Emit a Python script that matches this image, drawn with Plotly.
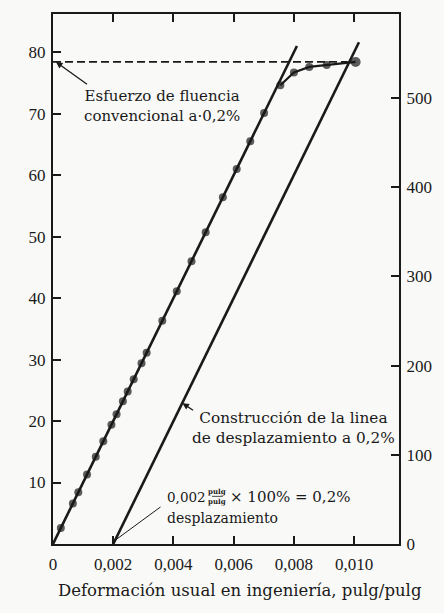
import plotly.graph_objects as go

# Ensayo de tracción: deformación (pulg/pulg) y esfuerzo (ksi)
deformacion = [0.00026, 0.00066, 0.00084, 0.00113, 0.00142, 0.00167, 0.00194,
               0.00211, 0.00232, 0.00248, 0.00268, 0.00294, 0.00311, 0.00363,
               0.00411, 0.00460, 0.00507, 0.00564, 0.00610, 0.00655, 0.00701,
               0.00755, 0.00800, 0.00851, 0.00909, 0.01005]
esfuerzo = [2.6, 6.6, 8.4, 11.3, 14.2, 16.7, 19.4, 21.1, 23.2, 24.8, 26.8, 29.4,
            31.1, 36.3, 41.1, 46.0, 50.7, 56.4, 61.0, 65.5, 70.1, 74.6, 76.7,
            77.6, 77.9, 78.4]

modulo = 1.0e4            # ksi, pendiente de la zona elástica
desplazamiento = 0.002    # 0,2 %
fluencia = 78.4           # ksi
fin_elastica = 81.0       # ksi, extremo superior de la recta elástica
fin_desplazada = 81.6     # ksi, extremo superior de la recta desplazada
inicio_plastico = 21      # índice desde el que la curva se separa de la recta

x_ticks = [0, 0.002, 0.004, 0.006, 0.008, 0.010]
x_ticktext = ["0", "0,002", "0,004", "0,006", "0,008", "0,010"]
y_ticks = [10, 20, 30, 40, 50, 60, 70, 80]
mpa_ticks = [0, 100, 200, 300, 400, 500]
KSI_A_MPA = 6.895

X_MAX = 0.01149
Y_MAX = 86.2

INK = "#1a1a1a"
NUM_FONT = "Liberation Serif"
TXT_FONT = "DejaVu Serif"

fig = go.Figure()

# recta elástica
fig.add_trace(go.Scatter(x=[0, fin_elastica / modulo], y=[0, fin_elastica],
                         mode="lines", line=dict(color=INK, width=2.6),
                         hoverinfo="skip", showlegend=False))
# recta desplazada 0,2 %
fig.add_trace(go.Scatter(x=[desplazamiento, desplazamiento + fin_desplazada / modulo],
                         y=[0, fin_desplazada],
                         mode="lines", line=dict(color=INK, width=2.6),
                         hoverinfo="skip", showlegend=False))
# límite de fluencia (discontinua)
fig.add_trace(go.Scatter(x=[0, deformacion[-2] + 0.0007], y=[fluencia, fluencia],
                         mode="lines", line=dict(color=INK, width=1.8, dash="8px,4px"),
                         hoverinfo="skip", showlegend=False))
# tramo plástico de la curva
fig.add_trace(go.Scatter(x=deformacion[inicio_plastico:], y=esfuerzo[inicio_plastico:],
                         mode="lines", line=dict(color=INK, width=2.2),
                         hoverinfo="skip", showlegend=False))
# puntos medidos
tamanos = [8] * (len(esfuerzo) - 1) + [10]
fig.add_trace(go.Scatter(x=deformacion, y=esfuerzo, mode="markers",
                         marker=dict(color=INK, size=tamanos, line=dict(width=0)),
                         showlegend=False))
# eje secundario en MPa
fig.add_trace(go.Scatter(x=[0], y=[0], yaxis="y2", mode="markers",
                         marker=dict(opacity=0), hoverinfo="skip", showlegend=False))
# eje superior (solo marcas)
fig.add_trace(go.Scatter(x=[0], y=[0], xaxis="x2", mode="markers",
                         marker=dict(opacity=0), hoverinfo="skip", showlegend=False))

num_fnt = dict(family=NUM_FONT, size=17, color=INK)
eje = dict(ticks="inside", ticklen=8, tickwidth=1.5, tickcolor=INK,
           showline=True, linecolor=INK, linewidth=2,
           showgrid=False, zeroline=False, tickfont=num_fnt)

fig.update_layout(
    width=444, height=613,
    margin=dict(l=53, r=32, t=14, b=69),
    paper_bgcolor="#f9f9f7", plot_bgcolor="#f9f9f7",
    font=num_fnt,
    xaxis=dict(range=[0, X_MAX], tickvals=x_ticks, ticktext=x_ticktext,
               ticklabelstandoff=4, **eje),
    xaxis2=dict(range=[0, X_MAX], tickvals=x_ticks, overlaying="x", side="top",
                showticklabels=False, **eje),
    yaxis=dict(range=[0, Y_MAX], tickvals=y_ticks, ticklabelstandoff=2, **eje),
    yaxis2=dict(range=[0, Y_MAX * KSI_A_MPA], tickvals=mpa_ticks, overlaying="y",
                side="right", ticklabelstandoff=2, **eje),
)


def txt(size):
    return dict(family=TXT_FONT, size=size, color=INK)


anots = []
# título del eje x
anots.append(dict(text="Deformación usual en ingeniería, pulg/pulg", xref="paper",
                  yref="paper", x=0.54, y=-0.087, xanchor="center", yanchor="middle",
                  showarrow=False, font=txt(16.5)))
# esfuerzo de fluencia
anots.append(dict(text="Esfuerzo de fluencia<br>convencional a·0,2%", x=0.00362, y=71.2,
                  xanchor="center", yanchor="middle", showarrow=False, font=txt(15)))
anots.append(dict(text="", x=0.0001, y=fluencia, ax=0.00118, ay=74.6, axref="x", ayref="y",
                  showarrow=True, arrowhead=2, arrowsize=1, arrowwidth=1.3,
                  arrowcolor=INK))
# construcción de la línea desplazada
anots.append(dict(text="Construcción de la linea<br>de desplazamiento a 0,2%", x=0.00797,
                  y=18.8, xanchor="center", yanchor="middle", showarrow=False,
                  font=txt(15.3)))
anots.append(dict(text="", x=0.0043, y=22.9, ax=0.0047, ay=21.6, axref="x", ayref="y",
                  showarrow=True, arrowhead=2, arrowsize=1, arrowwidth=1.3,
                  arrowcolor=INK))
# 0,002 pulg/pulg × 100 % = 0,2 %
anots.append(dict(text="0,002", x=0.00372, y=7.6, xanchor="left", yanchor="middle",
                  showarrow=False, font=txt(13.5)))
anots.append(dict(text="<b>pulg</b>", x=0.00546, y=8.6, xanchor="center", yanchor="middle",
                  showarrow=False, font=txt(7)))
anots.append(dict(text="<b>pulg</b>", x=0.00546, y=6.9, xanchor="center", yanchor="middle",
                  showarrow=False, font=txt(7)))
anots.append(dict(text="× 100% = 0,2%", x=0.00580, y=7.6, xanchor="left",
                  yanchor="middle", showarrow=False, font=txt(15)))
anots.append(dict(text="desplazamiento", x=0.00372, y=4.2, xanchor="left",
                  yanchor="middle", showarrow=False, font=txt(14)))
anots.append(dict(text="", x=0.00195, y=0.2, ax=0.00362, ay=6.2, axref="x", ayref="y",
                  showarrow=True, arrowhead=2, arrowsize=0.7, arrowwidth=1,
                  arrowcolor=INK))
fig.update_layout(annotations=anots)

# raya de la fracción pulg/pulg
fig.add_shape(type="line", x0=0.00528, x1=0.00564, y0=7.75, y1=7.75,
              line=dict(color=INK, width=0.8))

fig.write_html("out.html")
